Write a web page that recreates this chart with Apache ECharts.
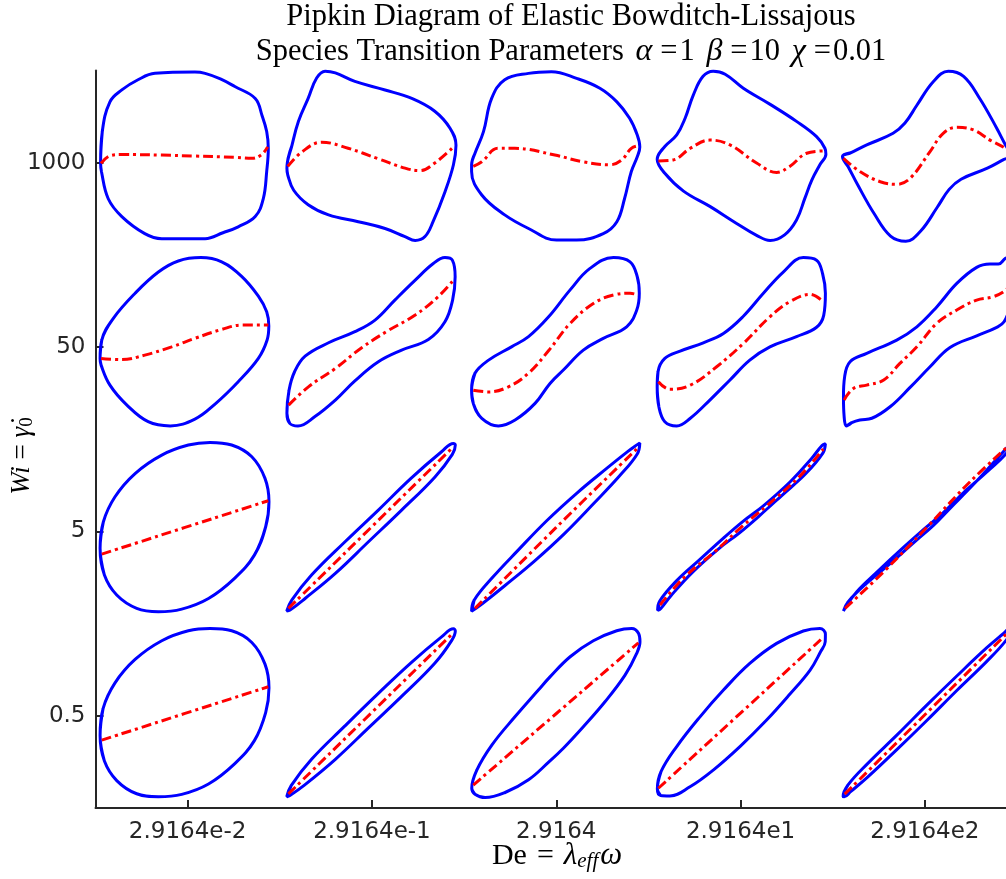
<!DOCTYPE html>
<html><head><meta charset="utf-8">
<script src="https://cdn.jsdelivr.net/npm/echarts@6/dist/echarts.min.js"></script>
<style>html,body{margin:0;padding:0;background:#fff}#c{width:1006px;height:879px}</style>
</head><body><div id="c"></div>
<script>
// ---------------- data ----------------
const deLabels = ['2.9164e-2', '2.9164e-1', '2.9164', '2.9164e1', '2.9164e2'];
const wiLabels = ['1000', '50', '5', '0.5']; // rows top -> bottom

// normalized (strain, stress) loops; T = total stress (blue), E = elastic stress (red)
const T_r1c1 = [[-0.99,-0.08],[-0.97,0.29],[-0.88,0.64],[-0.74,0.78],[-0.55,0.9],[-0.35,0.975],[0.12,0.99],[0.24,0.975],[0.42,0.91],[0.59,0.82],[0.83,0.68],[0.91,0.48],[0.965,0.29],[0.984,0.09],[0.965,-0.18],[0.925,-0.5],[0.83,-0.71],[0.63,-0.83],[0.45,-0.9],[0.24,-0.97],[-0.27,-0.97],[-0.47,-0.91],[-0.74,-0.71],[-0.9,-0.5],[-0.98,-0.18]];
const E_r1c1 = [[-0.985,-0.084],[-0.88,0.006],[-0.74,0.02],[-0.27,0.014],[0.12,0.002],[0.59,-0.013],[0.79,-0.025],[0.906,0.02],[0.976,0.11]];
const T_r1c2 = [[-0.99,-0.14],[-0.93,0.13],[-0.855,0.41],[-0.74,0.68],[-0.64,0.92],[-0.54,1.0],[-0.42,0.98],[-0.19,0.88],[0.165,0.78],[0.48,0.68],[0.75,0.53],[0.93,0.33],[1.0,0.13],[0.97,-0.10],[0.87,-0.42],[0.73,-0.77],[0.635,-0.945],[0.52,-0.99],[0.40,-0.945],[0.165,-0.85],[-0.15,-0.77],[-0.50,-0.69],[-0.74,-0.57],[-0.91,-0.40],[-0.98,-0.22]];
const E_r1c2 = [[-0.98,-0.12],[-0.815,0.05],[-0.58,0.165],[-0.27,0.094],[0.086,-0.03],[0.4,-0.14],[0.576,-0.17],[0.75,-0.08],[0.96,0.10]];
const T_r1c3 = [[-0.99,-0.10],[-0.95,0.034],[-0.85,0.29],[-0.754,0.68],[-0.60,0.90],[-0.32,0.975],[-0.05,0.994],[0.246,0.916],[0.52,0.80],[0.72,0.64],[0.87,0.446],[0.96,0.25],[0.99,0.11],[0.96,-0.006],[0.89,-0.18],[0.81,-0.50],[0.72,-0.77],[0.56,-0.91],[0.246,-0.986],[0.01,-0.986],[-0.32,-0.85],[-0.60,-0.69],[-0.87,-0.456],[-0.99,-0.18]];
const E_r1c3 = [[-0.97,-0.12],[-0.87,-0.065],[-0.68,0.093],[-0.48,0.093],[-0.01,0.014],[0.32,-0.065],[0.64,-0.10],[0.775,-0.045],[0.89,0.093],[0.98,0.124]];
const T_r1c4 = [[-0.99,-0.035],[-0.90,0.114],[-0.76,0.25],[-0.66,0.45],[-0.565,0.72],[-0.45,0.94],[-0.33,1.0],[-0.19,0.965],[0.024,0.80],[0.34,0.61],[0.65,0.41],[0.886,0.23],[0.984,0.094],[0.996,0.024],[0.925,-0.10],[0.83,-0.28],[0.75,-0.49],[0.65,-0.75],[0.51,-0.925],[0.34,-0.99],[0.18,-0.93],[-0.055,-0.79],[-0.37,-0.59],[-0.68,-0.41],[-0.90,-0.20]];
const E_r1c4 = [[-0.976,-0.055],[-0.80,-0.043],[-0.60,0.094],[-0.37,0.19],[-0.133,0.133],[0.18,-0.08],[0.416,-0.19],[0.57,-0.12],[0.77,0.035],[0.99,0.063]];
const T_r1c5 = [[-0.996,-0.004],[-0.90,0.04],[-0.71,0.133],[-0.40,0.27],[-0.26,0.39],[-0.12,0.60],[0.075,0.88],[0.25,1.0],[0.43,0.94],[0.62,0.68],[0.82,0.33],[0.93,0.12],[1.0,0.01],[0.90,-0.04],[0.71,-0.14],[0.40,-0.27],[0.26,-0.39],[0.12,-0.60],[-0.075,-0.88],[-0.25,-1.0],[-0.43,-0.94],[-0.62,-0.68],[-0.82,-0.33],[-0.93,-0.12]];
const E_r1c5 = [[-0.984,-0.024],[-0.79,-0.18],[-0.55,-0.30],[-0.357,-0.33],[-0.20,-0.26],[0.035,0.055],[0.19,0.27],[0.35,0.34],[0.545,0.31],[0.74,0.19],[0.93,0.086],[0.99,0.01]];

const T_r2c1 = [[-0.996,-0.196],[-0.976,0.02],[-0.84,0.275],[-0.584,0.57],[-0.31,0.82],[-0.075,0.95],[0.19,0.99],[0.435,0.94],[0.67,0.77],[0.867,0.537],[0.965,0.353],[0.99,0.184],[0.97,0.02],[0.867,-0.196],[0.63,-0.47],[0.357,-0.733],[0.12,-0.91],[-0.17,-0.99],[-0.43,-0.94],[-0.68,-0.745],[-0.88,-0.51],[-0.984,-0.275]];
const E_r2c1 = [[-0.984,-0.196],[-0.74,-0.21],[-0.47,-0.157],[-0.153,-0.06],[0.12,0.04],[0.435,0.145],[0.67,0.196],[0.984,0.196]];
const T_r2c2 = [[-0.99,-0.84],[-0.965,-0.57],[-0.90,-0.353],[-0.776,-0.17],[-0.50,-0.012],[-0.19,0.118],[0.047,0.255],[0.28,0.49],[0.52,0.725],[0.733,0.92],[0.87,0.99],[0.957,0.96],[0.99,0.765],[0.96,0.49],[0.87,0.235],[0.675,0.027],[0.36,-0.098],[0.086,-0.235],[-0.19,-0.46],[-0.42,-0.686],[-0.66,-0.88],[-0.86,-0.99],[-0.957,-0.96]];
const E_r2c2 = [[-0.97,-0.745],[-0.737,-0.53],[-0.42,-0.314],[-0.11,-0.07],[0.20,0.13],[0.52,0.314],[0.79,0.53],[0.97,0.725]];
const T_r2c3 = [[-0.99,-0.57],[-0.95,-0.37],[-0.79,-0.216],[-0.52,-0.06],[-0.32,0.06],[-0.086,0.29],[0.17,0.61],[0.40,0.86],[0.68,0.99],[0.875,0.94],[0.96,0.765],[0.984,0.57],[0.953,0.37],[0.835,0.176],[0.56,0.04],[0.325,-0.098],[0.09,-0.333],[-0.067,-0.49],[-0.243,-0.725],[-0.478,-0.92],[-0.675,-0.99],[-0.87,-0.90],[-0.97,-0.725]];
const E_r2c3 = [[-0.97,-0.57],[-0.79,-0.59],[-0.557,-0.53],[-0.32,-0.37],[-0.08,-0.10],[0.17,0.216],[0.443,0.45],[0.68,0.55],[0.875,0.57],[0.973,0.55]];
const T_r2c4 = [[-0.99,-0.53],[-0.98,-0.353],[-0.90,-0.196],[-0.72,-0.11],[-0.447,-0.012],[-0.21,0.098],[0.024,0.30],[0.26,0.57],[0.494,0.82],[0.73,0.99],[0.886,0.96],[0.957,0.80],[0.99,0.57],[0.97,0.31],[0.886,0.17],[0.65,0.06],[0.337,-0.06],[0.10,-0.216],[-0.133,-0.45],[-0.37,-0.686],[-0.60,-0.90],[-0.76,-0.99],[-0.90,-0.94],[-0.97,-0.765]];
const E_r2c4 = [[-0.976,-0.47],[-0.84,-0.56],[-0.60,-0.51],[-0.29,-0.294],[0.024,-0.02],[0.337,0.294],[0.57,0.47],[0.81,0.557],[0.965,0.47]];
const T_r2c5 = [[-0.95,-0.99],[-0.976,-0.88],[-0.984,-0.647],[-0.97,-0.41],[-0.906,-0.235],[-0.71,-0.137],[-0.357,0.02],[-0.12,0.176],[0.114,0.41],[0.35,0.686],[0.584,0.875],[0.74,0.914],[0.84,0.914],[0.92,0.98],[0.95,0.99],[0.976,0.88],[0.984,0.647],[0.97,0.41],[0.906,0.235],[0.82,0.17],[0.584,0.07],[0.27,-0.067],[0.035,-0.294],[-0.20,-0.537],[-0.435,-0.765],[-0.65,-0.90],[-0.79,-0.92],[-0.886,-0.95]];
const E_r2c5 = [[-0.976,-0.686],[-0.867,-0.55],[-0.71,-0.51],[-0.51,-0.45],[-0.32,-0.255],[-0.12,-0.06],[0.114,0.216],[0.35,0.373],[0.584,0.49],[0.78,0.53],[0.93,0.61],[0.976,0.686]];

const T_r3c1 = [[-0.996,-0.25],[-0.957,0.063],[-0.82,0.357],[-0.584,0.63],[-0.27,0.847],[0.043,0.965],[0.298,0.996],[0.553,0.965],[0.79,0.827],[0.945,0.573],[0.992,0.298],[0.953,0.004],[0.82,-0.33],[0.59,-0.60],[0.28,-0.84],[-0.035,-0.965],[-0.31,-0.996],[-0.565,-0.957],[-0.80,-0.80],[-0.945,-0.565]];
const E_r3c1 = [[-0.976,-0.318],[0.984,0.31]];
const T_r3c2 = [[-0.992,-0.988],[-0.933,-0.86],[-0.70,-0.565],[-0.306,-0.173],[0.086,0.20],[0.47,0.573],[0.83,0.886],[0.97,0.984],[0.992,0.965],[0.957,0.855],[0.753,0.59],[0.36,0.20],[-0.03,-0.173],[-0.42,-0.545],[-0.776,-0.84],[-0.953,-0.976]];
const E_r3c2 = [[-0.973,-0.957],[0.97,0.945]];
const T_r3c3 = [[-0.99,-0.99],[-0.96,-0.86],[-0.75,-0.6],[-0.45,-0.28],[-0.1,0.08],[0.25,0.40],[0.6,0.69],[0.85,0.89],[0.96,0.97],[0.99,0.99],[0.96,0.86],[0.75,0.6],[0.45,0.28],[0.1,-0.08],[-0.25,-0.40],[-0.6,-0.69],[-0.85,-0.89],[-0.96,-0.97]];
const E_r3c3 = [[-0.95,-0.957],[0.0,-0.01],[0.96,0.925]];
const T_r3c4 = [[-0.985,-0.98],[-0.96,-0.87],[-0.76,-0.63],[-0.486,-0.38],[-0.21,-0.13],[0.024,0.07],[0.26,0.25],[0.573,0.53],[0.83,0.81],[0.95,0.96],[0.99,0.98],[0.96,0.87],[0.76,0.63],[0.486,0.38],[0.21,0.13],[-0.024,-0.07],[-0.26,-0.25],[-0.573,-0.53],[-0.83,-0.81],[-0.95,-0.96]];
const E_r3c4 = [[-0.957,-0.918],[-0.68,-0.60],[-0.29,-0.27],[0.0,0.0],[0.30,0.25],[0.69,0.6],[0.965,0.918]];
const T_r3c5 = [[-0.984,-0.988],[-0.93,-0.88],[-0.71,-0.66],[-0.435,-0.43],[-0.12,-0.15],[0.075,0.02],[0.27,0.22],[0.545,0.50],[0.82,0.80],[0.937,0.93],[0.984,0.988],[0.96,0.9],[0.74,0.68],[0.467,0.44],[0.192,0.17],[-0.043,-0.03],[-0.278,-0.24],[-0.59,-0.53],[-0.827,-0.76],[-0.96,-0.94]];
const E_r3c5 = [[-0.965,-0.957],[-0.51,-0.525],[0.0,0.0],[0.506,0.533],[0.96,0.957]];

const T_r4c1 = [[-0.996,-0.27],[-0.96,0.05],[-0.82,0.35],[-0.584,0.625],[-0.27,0.845],[0.043,0.962],[0.298,0.99],[0.553,0.962],[0.79,0.825],[0.945,0.57],[0.992,0.29],[0.953,0.0],[0.82,-0.33],[0.59,-0.60],[0.28,-0.84],[-0.035,-0.962],[-0.31,-0.99],[-0.565,-0.955],[-0.80,-0.80],[-0.945,-0.57]];
const E_r4c1 = [[-0.976,-0.324],[0.984,0.304]];
const T_r4c2 = [[-0.992,-0.99],[-0.94,-0.86],[-0.70,-0.55],[-0.31,-0.16],[0.08,0.22],[0.47,0.585],[0.83,0.89],[0.97,0.985],[0.992,0.96],[0.95,0.85],[0.75,0.58],[0.36,0.19],[-0.03,-0.18],[-0.42,-0.55],[-0.78,-0.85],[-0.955,-0.975]];
const E_r4c2 = [[-0.973,-0.957],[0.97,0.94]];
const T_r4c3 = [[-0.988,-0.89],[-0.93,-0.68],[-0.75,-0.38],[-0.48,-0.05],[-0.204,0.265],[-0.067,0.42],[0.17,0.657],[0.443,0.845],[0.718,0.963],[0.894,0.99],[0.976,0.93],[0.992,0.833],[0.953,0.696],[0.816,0.44],[0.58,0.127],[0.325,-0.167],[0.09,-0.42],[-0.08,-0.58],[-0.32,-0.79],[-0.596,-0.94],[-0.83,-1.0],[-0.95,-0.96]];
const E_r4c3 = [[-0.97,-0.853],[0.973,0.82]];
const T_r4c4 = [[-0.988,-0.90],[-0.945,-0.696],[-0.76,-0.40],[-0.486,-0.05],[-0.21,0.265],[0.10,0.578],[0.416,0.814],[0.73,0.96],[0.925,0.99],[0.99,0.923],[0.988,0.833],[0.933,0.716],[0.81,0.50],[0.573,0.218],[0.298,-0.088],[-0.016,-0.40],[-0.33,-0.676],[-0.604,-0.873],[-0.84,-0.98],[-0.95,-0.975]];
const E_r4c4 = [[-0.976,-0.89],[0.965,0.884]];
const T_r4c5 = [[-0.988,-0.986],[-0.93,-0.85],[-0.7,-0.6],[-0.35,-0.26],[0.0,0.09],[0.35,0.43],[0.7,0.76],[0.9,0.93],[0.975,0.99],[0.99,0.975],[0.93,0.85],[0.7,0.6],[0.35,0.26],[0.0,-0.09],[-0.35,-0.43],[-0.7,-0.76],[-0.9,-0.93],[-0.975,-0.99]];
const E_r4c5 = [[-0.97,-0.96],[0.97,0.96]];

const TOTAL = [
  [T_r1c1, T_r1c2, T_r1c3, T_r1c4, T_r1c5],
  [T_r2c1, T_r2c2, T_r2c3, T_r2c4, T_r2c5],
  [T_r3c1, T_r3c2, T_r3c3, T_r3c4, T_r3c5],
  [T_r4c1, T_r4c2, T_r4c3, T_r4c4, T_r4c5]
];
const ELASTIC = [
  [E_r1c1, E_r1c2, E_r1c3, E_r1c4, E_r1c5],
  [E_r2c1, E_r2c2, E_r2c3, E_r2c4, E_r2c5],
  [E_r3c1, E_r3c2, E_r3c3, E_r3c4, E_r3c5],
  [E_r4c1, E_r4c2, E_r4c3, E_r4c4, E_r4c5]
];

// ---------------- layout ----------------
const loopX = [0.484, 1.495, 2.497, 3.504, 4.512]; // loop centres, x-axis units
const loopY = [3.535, 2.529, 1.524, 0.518];        // loop centres, y-axis units (rows top->bottom)
const SC = 0.461;                                   // half-size of a loop in axis units
const tickX = [0.5, 1.5, 2.5, 3.5, 4.5];
const tickY = [3.5, 2.5, 1.5, 0.5];

function place(pts, r, c) {
  return pts.map(p => [loopX[c] + SC * p[0], loopY[r] + SC * p[1]]);
}
function closed(pts) {
  const n = pts.length;
  return [pts[n - 1]].concat(pts, [pts[0], pts[1]]);
}

const series = [];
for (let r = 0; r < 4; r++) {
  for (let c = 0; c < 5; c++) {
    series.push({
      type: 'line', data: closed(place(TOTAL[r][c], r, c)), smooth: 0.4,
      symbol: 'none', silent: true, animation: false, z: 2,
      lineStyle: { color: '#0000ff', width: 3 }
    });
  }
}
for (let r = 0; r < 4; r++) {
  for (let c = 0; c < 5; c++) {
    series.push({
      type: 'line', data: place(ELASTIC[r][c], r, c), smooth: 0.4,
      symbol: 'none', silent: true, animation: false, z: 3,
      lineStyle: { color: '#ff0000', width: 3, type: [10, 4, 3, 4] }
    });
  }
}

const axisColor = '#262626';
const chart = echarts.init(document.getElementById('c'), null, { renderer: 'canvas' });
const serif = '"Liberation Serif", "DejaVu Serif", serif';
const T = 30.5;
chart.setOption({
  backgroundColor: '#ffffff',
  animation: false,
  grid: { left: 95.5, right: 0, top: 70.5, bottom: 70.9, containLabel: false, outerBoundsMode: 'none' },
  xAxis: {
    type: 'value', min: 0, max: 4.9403,
    axisLine: { show: true, onZero: false, lineStyle: { color: axisColor, width: 2 } },
    axisTick: { show: true, inside: true, length: 8, customValues: tickX, lineStyle: { color: axisColor, width: 2 } },
    axisLabel: { customValues: tickX, formatter: v => deLabels[Math.round(v - 0.5)], color: axisColor,
      fontFamily: '"DejaVu Sans", sans-serif', fontSize: 23, margin: 12 },
    splitLine: { show: false }
  },
  yAxis: {
    type: 'value', min: 0, max: 4,
    axisLine: { show: true, onZero: false, lineStyle: { color: axisColor, width: 2 } },
    axisTick: { show: true, inside: true, length: 8, customValues: tickY, lineStyle: { color: axisColor, width: 2 } },
    axisLabel: { customValues: tickY, formatter: v => wiLabels[3 - Math.round(v - 0.5)], color: axisColor,
      fontFamily: '"DejaVu Sans", sans-serif', fontSize: 23, margin: 10 },
    splitLine: { show: false }
  },
  graphic: [
    { type: 'text', x: 571, y: 17, silent: true,
      style: { text: 'Pipkin Diagram of Elastic Bowditch-Lissajous', fill: '#000',
        font: T + 'px ' + serif, textAlign: 'center', textVerticalAlign: 'middle' } },
    { type: 'text', x: 571, y: 52, silent: true,
      style: { text: '{n|Species Transition Parameters }{g|α}{e|=}{n|1 }{g|β}{e|=}{n|10 }{g|χ}{e|=}{n|0.01}',
        textAlign: 'center', textVerticalAlign: 'middle', fill: '#000',
        rich: { n: { fontFamily: serif, fontSize: T, fill: '#000', lineHeight: 34, verticalAlign: 'middle' },
                g: { fontFamily: serif, fontSize: T + 1.5, fontStyle: 'italic', fill: '#000', padding: [0, 6, 0, 4], lineHeight: 34, verticalAlign: 'middle' },
                e: { fontFamily: serif, fontSize: T, fill: '#000', padding: [0, 2, 0, 2], lineHeight: 34, verticalAlign: 'middle' } } } },
    { type: 'text', x: 557, y: 856, silent: true,
      style: { text: '{n|De}{e|=}{i|λ}{s|eff}{i|ω}', textAlign: 'center', textVerticalAlign: 'middle', fill: '#000',
        rich: { n: { fontFamily: serif, fontSize: 30, lineHeight: 32, verticalAlign: 'middle' },
                e: { fontFamily: serif, fontSize: 30, lineHeight: 32, verticalAlign: 'middle', padding: [0, 10, 0, 10] },
                i: { fontFamily: serif, fontSize: 31, fontStyle: 'italic', lineHeight: 32, verticalAlign: 'middle' },
                s: { fontFamily: serif, fontSize: 21, fontStyle: 'italic', lineHeight: 20, verticalAlign: 'bottom', padding: [0, 2, 0, 0] } } } },
    { type: 'text', x: 22, y: 456, rotation: Math.PI / 2, silent: true,
      style: { text: '{i|Wi}{n| = }{i|γ̇}{s|0}', textAlign: 'center', textVerticalAlign: 'middle', fill: '#000',
        rich: { n: { fontFamily: serif, fontSize: 27, lineHeight: 30, verticalAlign: 'middle' },
                i: { fontFamily: serif, fontSize: 27, fontStyle: 'italic', lineHeight: 30, verticalAlign: 'middle' },
                s: { fontFamily: serif, fontSize: 19, lineHeight: 18, verticalAlign: 'bottom' } } } }
  ],
  series: series
});
</script>
</body></html>
